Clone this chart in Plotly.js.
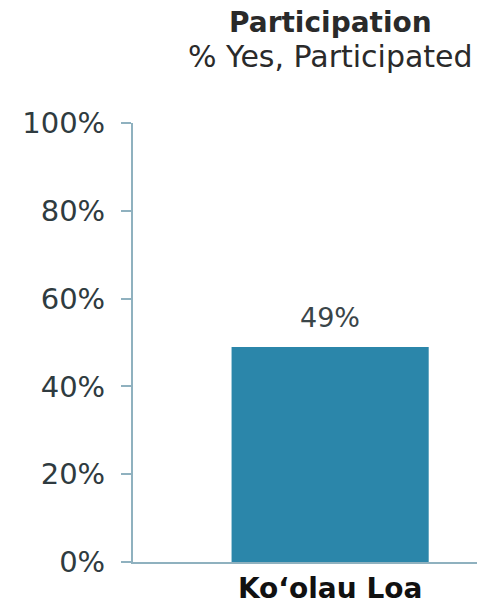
<!DOCTYPE html>
<html>
<head>
<meta charset="utf-8">
<script src="https://cdn.plot.ly/plotly-3.0.1.min.js"></script>
<style>
  html, body { margin: 0; padding: 0; background: #fff; }
  #plot { width: 477px; height: 605px; }
</style>
</head>
<body>
<div id="plot"></div>
<script>
// data
const regions = ["Ko‘olau Loa"];
const yesShare = [49];          // % Yes, Participated
const yTicks = [0, 20, 40, 60, 80, 100];
const yTickLabels = ["0%", "20%", "40%", "60%", "80%", "100%"];
const titleText = "Participation";
const subtitleText = "% Yes, Participated";

const axisColor = "#8fb1bf";
const textColor = "#2f3b40";
const font = "DejaVu Sans, Verdana, sans-serif";

const traces = [{
  type: "bar",
  x: [0],
  y: yesShare,
  width: 1,
  marker: { color: "#2b86aa" },
  hoverinfo: "skip"
}];

// value label above the bar
const annotations = yesShare.map((v, i) => ({
  x: i, y: v, xref: "x", yref: "y",
  text: v + "%",
  showarrow: false,
  yanchor: "bottom",
  yshift: 12,
  font: { family: font, size: 27, color: "#3a4549" }
}));

// title + subtitle (placed by hand, above the plot)
annotations.push({
  x: 0.573, y: 1.228, xref: "paper", yref: "paper",
  xanchor: "center", yanchor: "middle",
  text: "<b>" + titleText + "</b>",
  showarrow: false,
  font: { family: font, size: 28, color: "#2a2a2a" }
});
annotations.push({
  x: 0.573, y: 1.152, xref: "paper", yref: "paper",
  xanchor: "center", yanchor: "middle",
  text: subtitleText,
  showarrow: false,
  font: { family: font, size: 30, color: "#2a2a2a" }
});

const layout = {
  width: 477,
  height: 605,
  paper_bgcolor: "#ffffff",
  plot_bgcolor: "#ffffff",
  showlegend: false,
  margin: { l: 133, r: 0, t: 123, b: 43 },
  xaxis: {
    range: [-1.0, 0.745],
    tickvals: [0],
    ticktext: regions.map(r => "<b>" + r + "</b>"),
    tickfont: { family: font, size: 28, color: "#111" },
    showline: true,
    linecolor: axisColor,
    linewidth: 2,
    ticks: "",
    showgrid: false,
    zeroline: false,
    fixedrange: true
  },
  yaxis: {
    range: [0, 100],
    tickvals: yTicks,
    ticktext: yTickLabels,
    tickfont: { family: font, size: 29, color: textColor },
    showline: true,
    linecolor: axisColor,
    linewidth: 2,
    ticks: "outside",
    ticklen: 10,
    tickwidth: 2,
    tickcolor: axisColor,
    ticklabelstandoff: 10,
    showgrid: false,
    zeroline: false,
    fixedrange: true
  },
  annotations: annotations
};

Plotly.newPlot("plot", traces, layout, { displayModeBar: false, staticPlot: true });
</script>
</body>
</html>
